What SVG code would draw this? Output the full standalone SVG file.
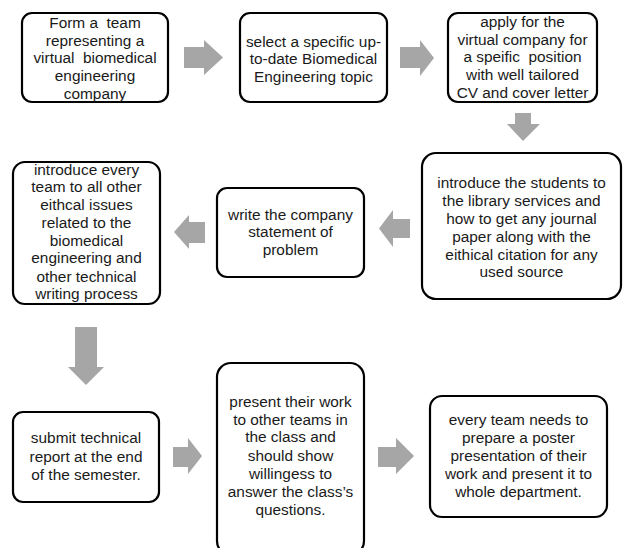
<svg xmlns="http://www.w3.org/2000/svg" width="625" height="548" viewBox="0 0 625 548">
<style>
.box{fill:#fff;stroke:#000;stroke-width:2.2}
.arr{fill:#a6a6a6}
text{font-family:"Liberation Sans",Arial,sans-serif;font-size:15.4px;fill:#1a1a1a;text-anchor:middle;white-space:pre}
</style>
<rect width="625" height="548" fill="#fff"/>
<g id="connectors">
<polygon class="arr" points="184,47 204,47 204,40 223,57.5 204,75 204,68 184,68"/>
<polygon class="arr" points="400,47 420,47 420,40 434,58 420,76 420,68 400,68"/>
<polygon class="arr" points="515,113 531,113 531,124 540,124 523,141 507,124 515,124"/>
<polygon class="arr" points="410,219 393,219 393,210 379,228.5 393,247 393,238 410,238"/>
<polygon class="arr" points="205,222 189,222 189,215 174,232 189,249 189,243 205,243"/>
<polygon class="arr" points="75,327 97,327 97,367 104,367 86,385 68,367 75,367"/>
<polygon class="arr" points="173,447 188,447 188,438 202,456 188,474 188,467 173,467"/>
<polygon class="arr" points="378,447 396,447 396,438 414,456 396,474 396,467 378,467"/>
</g>
<g id="n1"><rect class="box" x="22" y="13" width="146" height="89" rx="10"/>
<text x="95" y="28" xml:space="preserve">Form a  team</text><text x="95" y="45.5">representing a</text><text x="95" y="63" xml:space="preserve">virtual  biomedical</text><text x="95" y="81">engineering</text><text x="95" y="99">company</text></g>
<g id="n2"><rect class="box" x="240" y="13" width="147" height="89" rx="10"/>
<text x="313.5" y="46.5">select a specific up-</text><text x="313.5" y="64">to-date Biomedical</text><text x="313.5" y="81.5">Engineering topic</text></g>
<g id="n3"><rect class="box" x="448" y="13" width="149" height="89" rx="10"/>
<text x="522.5" y="27">apply for the</text><text x="522.5" y="45">virtual company for</text><text x="522.5" y="62" xml:space="preserve">a speific  position</text><text x="522.5" y="80">with well tailored</text><text x="522.5" y="98">CV and cover letter</text></g>
<g id="n4"><rect class="box" x="422" y="153" width="199" height="146" rx="14"/>
<text x="521.5" y="188">introduce the students to</text><text x="521.5" y="206">the library services and</text><text x="521.5" y="224">how to get any journal</text><text x="521.5" y="242">paper along with the</text><text x="521.5" y="260">eithical citation for any</text><text x="521.5" y="277">used source</text></g>
<g id="n5"><rect class="box" x="217" y="188" width="147" height="89" rx="10"/>
<text x="290.5" y="220">write the company</text><text x="290.5" y="237">statement of</text><text x="290.5" y="255">problem</text></g>
<g id="n6"><rect class="box" x="13" y="162" width="147" height="142" rx="12"/>
<text x="86.5" y="175">introduce every</text><text x="86.5" y="192">team to all other</text><text x="86.5" y="210">eithcal issues</text><text x="86.5" y="228">related to the</text><text x="86.5" y="246">biomedical</text><text x="86.5" y="263">engineering and</text><text x="86.5" y="282">other technical</text><text x="86.5" y="299">writing process</text></g>
<g id="n7"><rect class="box" x="13" y="412" width="146" height="90" rx="10"/>
<text x="86" y="443">submit technical</text><text x="86" y="462">report at the end</text><text x="86" y="480">of the semester.</text></g>
<g id="n8"><rect class="box" x="217" y="363" width="147" height="192" rx="14"/>
<text x="290.5" y="407">present their work</text><text x="290.5" y="425">to other teams in</text><text x="290.5" y="442">the class and</text><text x="290.5" y="461">should show</text><text x="290.5" y="479">willingess to</text><text x="290.5" y="497">answer the class’s</text><text x="290.5" y="515">questions.</text></g>
<g id="n9"><rect class="box" x="430" y="396" width="177" height="121" rx="12"/>
<text x="518.5" y="425">every team needs to</text><text x="518.5" y="443">prepare a poster</text><text x="518.5" y="461">presentation of their</text><text x="518.5" y="479">work and present it to</text><text x="518.5" y="497">whole department.</text></g>
</svg>
